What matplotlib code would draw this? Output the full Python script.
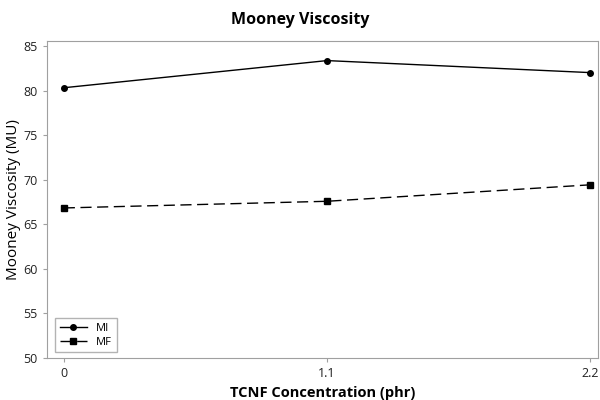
import matplotlib
matplotlib.use("Agg")
import matplotlib.pyplot as plt

plt.rcParams["font.family"] = ["Open Sans", "DejaVu Sans"]

concentration = [0, 1.1, 2.2]
tick_labels = ["0", "1.1", "2.2"]
mi_values = [80.35, 83.4, 82.05]
mf_values = [66.85, 67.6, 69.45]

fig = plt.figure(figsize=(6, 4), dpi=100)
ax = fig.add_axes([0.078, 0.105, 0.919, 0.7925])

ax.plot(concentration, mi_values, color="black", linewidth=1.0, marker="o",
        markersize=4, label="MI")
ax.plot(concentration, mf_values, color="black", linewidth=1.0, marker="s",
        markersize=4, linestyle=(0, (8, 4)), label="MF")

ax.set_xlim(-0.071, 2.233)
ax.set_ylim(50, 85.6)
ax.set_xticks(concentration)
ax.set_xticklabels(tick_labels)
ax.set_yticks(range(50, 86, 5))

for spine in ax.spines.values():
    spine.set_color("#a0a0a0")
ax.tick_params(colors="#a0a0a0", labelcolor="#222222", labelsize=9, length=3)

# title is centred on the figure, not the axes
fig.text(0.5, 0.95, "Mooney Viscosity", ha="center", va="center",
         fontsize=11.5, fontweight="bold")
ax.set_xlabel("TCNF Concentration (phr)", fontsize=10.5, fontweight="bold")
ax.set_ylabel("Mooney Viscosity (MU)", fontsize=11, labelpad=2)

leg = ax.legend(loc="lower left", fontsize=8, frameon=True, fancybox=False,
                handlelength=2.5, borderpad=0.4, labelspacing=0.3,
                bbox_to_anchor=(0.005, 0.0))
leg.get_frame().set_edgecolor("#a0a0a0")
leg.get_frame().set_linewidth(1.0)

fig.savefig("out.png", dpi=100)
